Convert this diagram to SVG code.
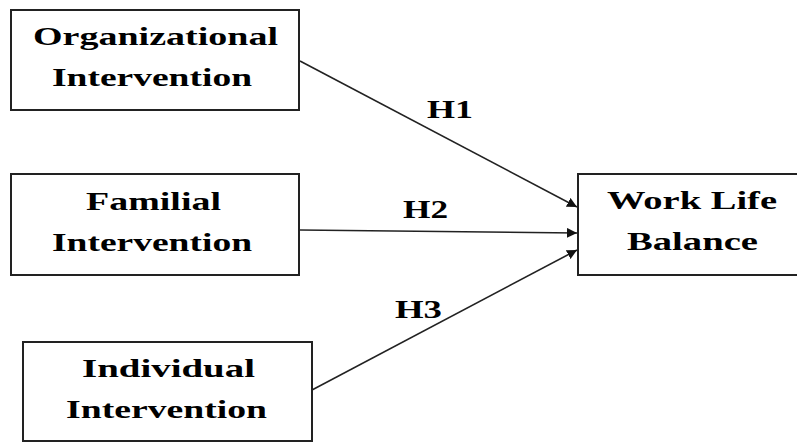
<svg xmlns="http://www.w3.org/2000/svg" width="797" height="443" viewBox="0 0 797 443">
<style>
.box{fill:#fff;stroke:#222;stroke-width:2}
.t{font-family:"Liberation Serif","Times New Roman",serif;font-weight:bold;font-size:26px;fill:#000}
.c{stroke:#222;stroke-width:1.6;fill:none}
</style>
<defs>
<marker id="ah" viewBox="0 0 10 10" refX="10" refY="5" markerWidth="10" markerHeight="10" markerUnits="userSpaceOnUse" orient="auto">
<path d="M0,0 L10,5 L0,10 z" fill="#111"/>
</marker>
</defs>
<rect width="797" height="443" fill="#fff"/>
<g id="connectors">
<line class="c" x1="300" y1="61" x2="577" y2="207" marker-end="url(#ah)"/>
<line class="c" x1="300" y1="230" x2="577" y2="233" marker-end="url(#ah)"/>
<line class="c" x1="312" y1="390" x2="577" y2="250" marker-end="url(#ah)"/>
<text class="t" x="427" y="118" textLength="46" lengthAdjust="spacingAndGlyphs">H1</text>
<text class="t" x="403" y="218" textLength="45" lengthAdjust="spacingAndGlyphs">H2</text>
<text class="t" x="395" y="318" textLength="47" lengthAdjust="spacingAndGlyphs">H3</text>
</g>
<g id="organizational">
<rect class="box" x="11" y="10" width="288" height="100"/>
<text class="t" x="33" y="45" textLength="245" lengthAdjust="spacingAndGlyphs">Organizational</text>
<text class="t" x="52" y="86" textLength="200" lengthAdjust="spacingAndGlyphs">Intervention</text>
</g>
<g id="familial">
<rect class="box" x="11" y="174" width="288" height="101"/>
<text class="t" x="86" y="210" textLength="135" lengthAdjust="spacingAndGlyphs">Familial</text>
<text class="t" x="52" y="251" textLength="200" lengthAdjust="spacingAndGlyphs">Intervention</text>
</g>
<g id="individual">
<rect class="box" x="23" y="342" width="289" height="99"/>
<text class="t" x="82" y="377" textLength="173" lengthAdjust="spacingAndGlyphs">Individual</text>
<text class="t" x="66" y="418" textLength="201" lengthAdjust="spacingAndGlyphs">Intervention</text>
</g>
<g id="worklife">
<rect class="box" x="578" y="174" width="230" height="101"/>
<text class="t" x="607" y="209" textLength="170" lengthAdjust="spacingAndGlyphs">Work Life</text>
<text class="t" x="627" y="250" textLength="131" lengthAdjust="spacingAndGlyphs">Balance</text>
</g>
</svg>
